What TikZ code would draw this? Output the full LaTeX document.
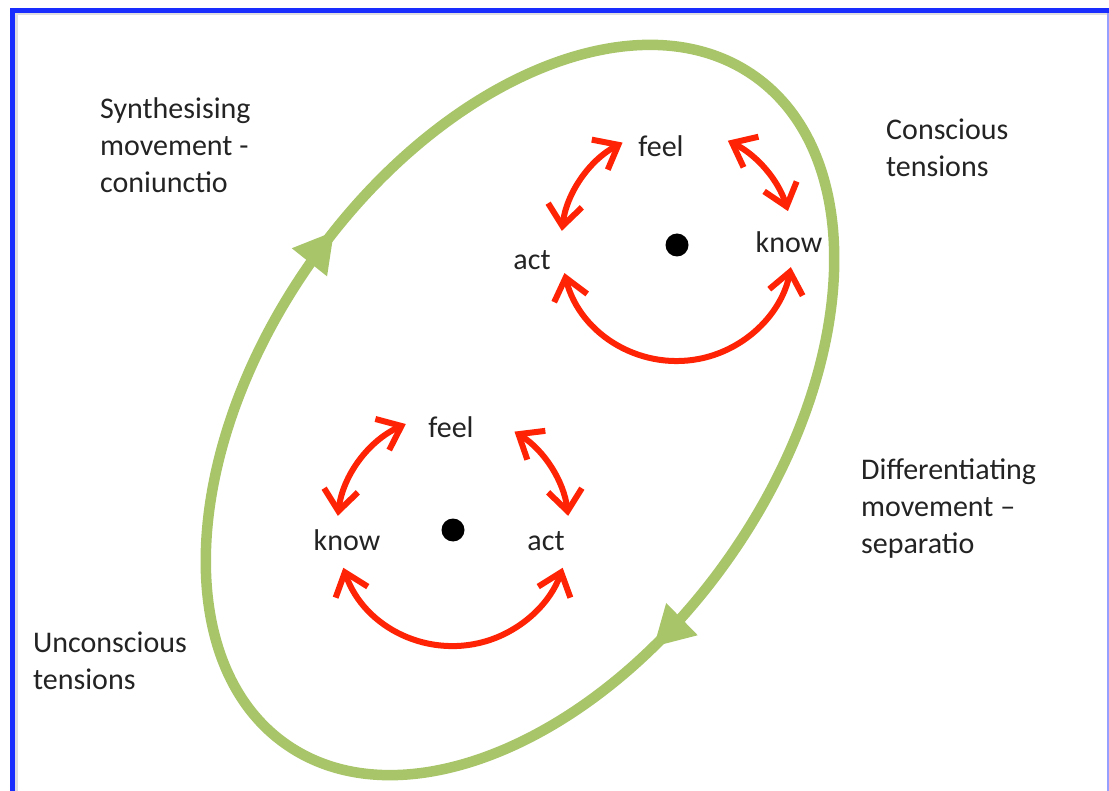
\documentclass[tikz,border=0pt]{standalone}
\usepackage{fontspec}
\setmainfont{Carlito}
\usetikzlibrary{arrows.meta,decorations.markings,calc}
\definecolor{frameblue}{RGB}{25,45,255}
\definecolor{frameshade}{RGB}{222,222,226}
\definecolor{loopgreen}{RGB}{168,197,106}
\definecolor{cyclered}{RGB}{255,35,5}
\definecolor{textgray}{RGB}{35,35,35}

\begin{document}
\begin{tikzpicture}[x=1pt,y=1pt,
  txt/.style={font=\fontsize{30}{37}\selectfont, text=textgray, inner sep=0pt},
  note/.style={txt, align=left, anchor=north west},
  word/.style={txt, anchor=base},
  pole/.style={fill=black},
  cyclearrow/.style={draw=cyclered, line width=6pt, line cap=round,
    {Straight Barb[length=21pt,width=34pt,line join=miter]}-{Straight Barb[length=21pt,width=34pt,line join=miter]}},
  loopline/.style={draw=loopgreen, line width=10.5pt},
  looptips/.style={postaction={decorate}, decoration={markings,
    mark=at position 0.231 with {\arrowreversed[loopgreen]{Triangle[length=40pt,width=42pt]}},
    mark=at position 0.694 with {\arrowreversed[loopgreen]{Triangle[length=40pt,width=42pt]}}}}
]
\useasboundingbox (0,0) rectangle (1109,-791);

% frame
\draw[frameshade, line width=3pt] (15,-14) -- (1109,-14);
\draw[frameshade, line width=3pt] (16,-12) -- (16,-791);
\draw[frameblue!45, line width=1.5pt] (1107.8,-10) -- (1107.8,-791);
\draw[frameblue, line width=4.5pt] (12.5,-791) -- (12.5,-10.3) -- (1109,-10.3);

% outer loop
\coordinate (lc) at (520,-410);
\draw[loopline, looptips, rotate around={55:(lc)}] (lc) ellipse [x radius=408pt, y radius=256pt];

% conscious cycle
\coordinate (c1) at (677,-245);
\fill[pole] (c1) circle[radius=11.5pt];
\node[word] (f1) at (661,-157) {feel};
\node[word] (k1) at (789,-253) {know};
\node[word] (a1) at (532,-270) {act};
\draw[cyclearrow] ($(c1)+(118:116pt)$) arc[start angle=118, end angle=173, radius=116pt];
\draw[cyclearrow] ($(c1)+(64:116pt)$) arc[start angle=64, end angle=17, radius=116pt];
\draw[cyclearrow] ($(c1)+(194:116pt)$) arc[start angle=194, end angle=349, radius=116pt];

% unconscious cycle
\coordinate (c2) at (453,-530);
\fill[pole] (c2) circle[radius=11.5pt];
\node[word] (f2) at (451,-438) {feel};
\node[word] (k2) at (347,-550) {know};
\node[word] (a2) at (546,-550) {act};
\draw[cyclearrow] ($(c2)+(114:116pt)$) arc[start angle=114, end angle=173, radius=116pt];
\draw[cyclearrow] ($(c2)+(58:116pt)$) arc[start angle=58, end angle=7, radius=116pt];
\draw[cyclearrow] ($(c2)+(199:116pt)$) arc[start angle=199, end angle=341, radius=116pt];

% side notes
\node[note] (syn) at (100,-97) {Synthesising\\movement -\\coniunctio};
\node[note] (con) at (886,-119) {Conscious\\tensions};
\node[note] (dif) at (861,-459) {Differentiating\\movement –\\separatio};
\node[note] (unc) at (33,-632) {Unconscious\\tensions};
\end{tikzpicture}
\end{document}
